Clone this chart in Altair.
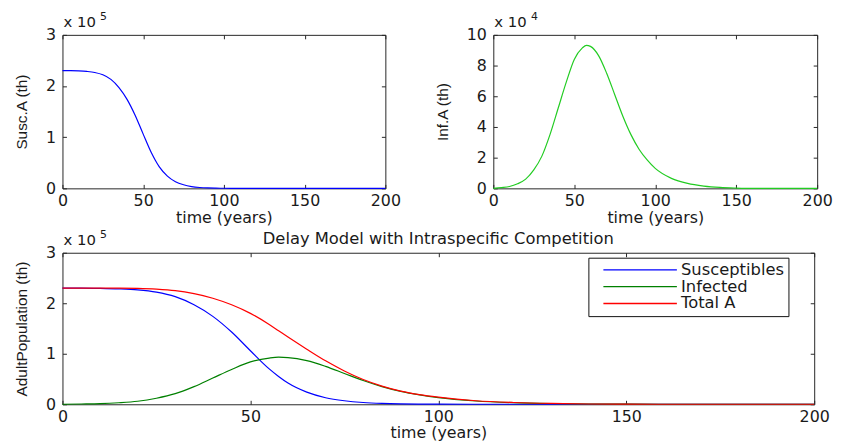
import altair as alt
import pandas as pd

# ---------------- data ----------------
time_years = [0, 5, 10, 15, 20, 25, 30, 35, 40, 45, 50, 55, 57.5, 60, 65, 70, 75, 80,
              85, 90, 95, 100, 110, 120, 130, 140, 150, 160, 180, 200]
# values in units of 1e5
susceptibles_e5 = [2.30, 2.30, 2.295, 2.285, 2.265, 2.22, 2.13, 1.97, 1.74, 1.43,
                   1.06, 0.70, 0.55, 0.42, 0.24, 0.13, 0.07, 0.035, 0.017, 0.008,
                   0.004, 0.002, 0.0, 0.0, 0.0, 0.0, 0.0, 0.0, 0.0, 0.0]
infected_e5 = [0.00, 0.005, 0.012, 0.03, 0.06, 0.12, 0.21, 0.35, 0.52, 0.69,
               0.84, 0.915, 0.932, 0.925, 0.865, 0.75, 0.61, 0.47, 0.35, 0.255,
               0.185, 0.13, 0.065, 0.032, 0.015, 0.006, 0.002, 0.0, 0.0, 0.0]
total_e5 = [2.30, 2.30, 2.30, 2.30, 2.295, 2.28, 2.25, 2.19, 2.10, 1.97,
            1.80, 1.58, 1.455, 1.33, 1.09, 0.86, 0.66, 0.49, 0.36, 0.26,
            0.19, 0.14, 0.07, 0.035, 0.016, 0.006, 0.002, 0.0, 0.0, 0.0]

series_names = ["Susceptibles", "Infected", "Total A"]
series_colors = ["#0000ff", "#008000", "#ff0000"]
x_ticks = [0, 50, 100, 150, 200]
s_ticks = [0, 100000, 200000, 300000]
i_ticks = [0, 20000, 40000, 60000, 80000, 100000]
exp_base = ["x 10"]
exp_powers = {"susc": "5", "inf": "4", "adult": "5"}

titles = {
    "x": "time (years)",
    "susc": "Susc.A (th)",
    "inf": "Inf.A (th)",
    "adult": "AdultPopulation (th)",
    "main": "Delay Model with Intraspecific Competition",
}

# ---------------- tables ----------------
wide = pd.DataFrame({
    "t": time_years,
    "S": [v * 1e5 for v in susceptibles_e5],
    "I": [v * 1e5 for v in infected_e5],
})
series_values = [susceptibles_e5, infected_e5, total_e5]
long = pd.DataFrame({
    "t": time_years * 3,
    "series": [n for n in series_names for _ in time_years],
    "value": [v * 1e5 for vals in series_values for v in vals],
})

TICK = 4
FONT_H = "DejaVu Sans"
FONT_V = "Liberation Sans"
TXT = "#1a1a1a"
BOX = "#262626"


def axes(ytitle, yvals, ydiv):
    xb = alt.Axis(values=x_ticks, title=titles["x"], orient="bottom", offset=-TICK,
                  tickSize=TICK, labelPadding=4, domain=False, grid=False,
                  titlePadding=1, labelFlush=False)
    yl = alt.Axis(values=yvals, title=ytitle, orient="left", offset=-TICK,
                  tickSize=TICK, labelPadding=7, domain=False, grid=False,
                  titlePadding=16, labelExpr=f"format(datum.value/{ydiv}, 'd')")
    xt = alt.Axis(values=x_ticks, title=None, orient="top", offset=-TICK,
                  tickSize=TICK, labels=False, domain=False, grid=False)
    yr = alt.Axis(values=yvals, title=None, orient="right", offset=-TICK,
                  tickSize=TICK, labels=False, domain=False, grid=False)
    return xb, yl, xt, yr


def exponent(power):
    d = pd.DataFrame({"base": exp_base, "power": [power]})
    b = alt.Chart(d).mark_text(align="left", baseline="alphabetic", font=FONT_H,
                               fontSize=15, color=TXT).encode(
        x=alt.value(1), y=alt.value(-8), text="base:N")
    p = alt.Chart(d).mark_text(align="left", baseline="alphabetic", font=FONT_H,
                               fontSize=11, color=TXT).encode(
        x=alt.value(38), y=alt.value(-15), text="power:N")
    return [b, p]


def single_panel(field, color, ydomain, yvals, ydiv, ytitle, power, w, h):
    sx = alt.Scale(domain=[0, 200], nice=False, zero=False)
    sy = alt.Scale(domain=ydomain, nice=False)
    xb, yl, xt, yr = axes(ytitle, yvals, ydiv)
    line = alt.Chart(wide).mark_line(color=color, strokeWidth=1.2,
                                     interpolate="monotone").encode(
        x=alt.X("t:Q", scale=sx, axis=xb),
        y=alt.Y(f"{field}:Q", scale=sy, axis=yl))
    mirror = alt.Chart(wide).mark_line(strokeOpacity=0).encode(
        x=alt.X("t:Q", scale=sx, axis=xt),
        y=alt.Y(f"{field}:Q", scale=sy, axis=yr))
    return alt.layer(line, mirror, *exponent(power)).resolve_axis(
        x="independent", y="independent").properties(width=w, height=h)


top_left = single_panel("S", "#0000ff", [0, 300000], s_ticks, 1e5,
                        titles["susc"], exp_powers["susc"], 326, 155)
top_right = single_panel("I", "#22cc22", [0, 100000], i_ticks, 1e4,
                         titles["inf"], exp_powers["inf"], 327, 155)

sx = alt.Scale(domain=[0, 200], nice=False, zero=False)
sy = alt.Scale(domain=[0, 300000], nice=False)
xb, yl, xt, yr = axes(titles["adult"], s_ticks, 1e5)
lines = alt.Chart(long).mark_line(strokeWidth=1.2, interpolate="monotone").encode(
    x=alt.X("t:Q", scale=sx, axis=xb),
    y=alt.Y("value:Q", scale=sy, axis=yl),
    color=alt.Color("series:N", sort=series_names,
                    scale=alt.Scale(domain=series_names, range=series_colors),
                    legend=alt.Legend(title=None, orient="none", legendX=531,
                                      legendY=5, symbolType="M-5.3,0H5.3",
                                      symbolSize=196, symbolStrokeWidth=1.4,
                                      strokeColor="#111", fillColor="white",
                                      padding=4, symbolOffset=40, labelOffset=33,
                                      rowPadding=0, labelFont=FONT_H,
                                      labelFontSize=16.5, labelColor=TXT)),
)
mirror = alt.Chart(long).mark_line(strokeOpacity=0).encode(
    x=alt.X("t:Q", scale=sx, axis=xt),
    y=alt.Y("value:Q", scale=sy, axis=yr))
bottom = alt.layer(lines, mirror, *exponent(exp_powers["adult"])).resolve_axis(
    x="independent", y="independent").properties(
    width=759, height=153,
    title=alt.TitleParams(titles["main"], anchor="middle", font=FONT_H,
                          fontSize=16.5, fontWeight="normal", color=TXT, offset=-19))

chart = alt.vconcat(
    alt.hconcat(top_left, top_right, spacing=34),
    bottom, spacing=2,
).resolve_legend(color="independent").properties(
    padding={"left": 6, "top": 0, "right": 2, "bottom": 0}
).configure_view(
    stroke=BOX, strokeWidth=1
).configure_axis(
    labelFont=FONT_H, labelFontSize=16, labelColor=TXT, tickColor=BOX,
    titleColor=TXT, titleFontWeight="normal",
).configure_axisX(
    titleFont=FONT_H, titleFontSize=16,
).configure_axisY(
    titleFont=FONT_V, titleFontSize=15.5,
)

chart.save("out.html", embed_options={"renderer": "svg", "actions": False})
